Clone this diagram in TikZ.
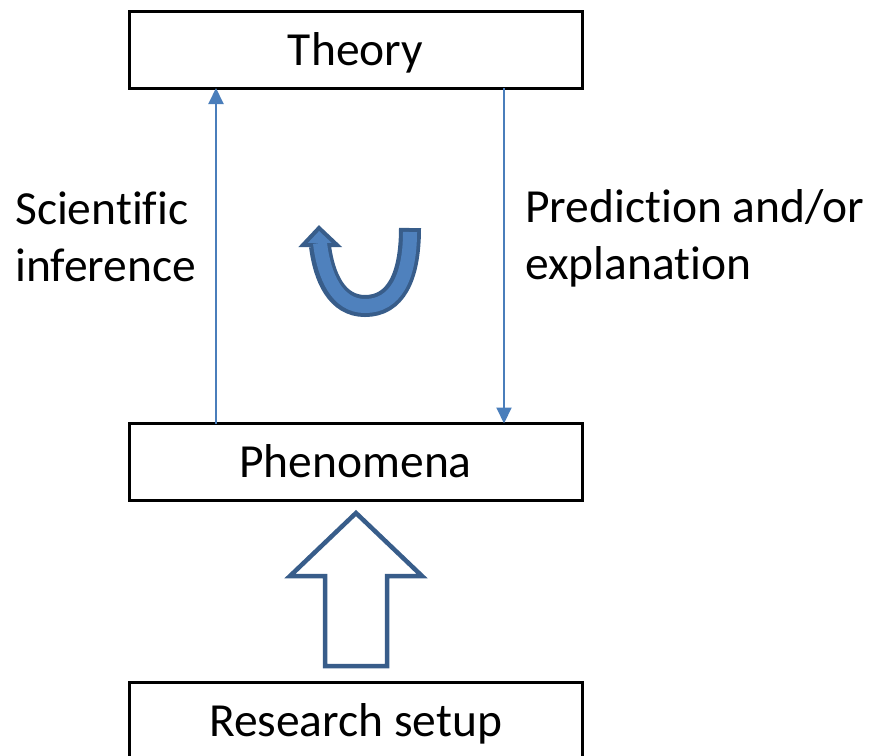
\documentclass[tikz,border=0pt]{standalone}
\usepackage{fontspec}
\setmainfont{Carlito}[Ligatures=NoCommon]
\usetikzlibrary{arrows.meta}
\definecolor{linkblue}{HTML}{4A7EBB}
\definecolor{curvefill}{HTML}{4F81BD}
\definecolor{curveline}{HTML}{385D8A}
\tikzset{
  box/.style={draw=black, line width=3pt, inner sep=0pt, outer sep=0pt,
    minimum width=453pt, minimum height=77pt, text height=31pt, text depth=0pt,
    font=\fontsize{47.5}{57}\selectfont},
  label/.style={inner sep=0pt, anchor=base west, align=left,
    font=\fontsize{47.5}{57}\selectfont},
  link/.style={linkblue, line width=2pt, -{Triangle[width=15pt,length=16pt]}},
}
\begin{document}
\begin{tikzpicture}[x=1pt, y=-1pt]
\useasboundingbox (0,0) rectangle (874,755);
\clip (0,0) rectangle (874,755);

% boxes
\node[box] (theory) at (355.5,49.5) {Theory};
\node[box] (phen) at (355.5,462) {Phenomena};
\node[box] (setup) at (355.5,720.5) {Research setup};

% side labels (base anchor sits on the last line)
\node[label] (infer) at (15,281) {Scientific\\inference};
\node[label] (pred) at (525,279) {Prediction and/or\\explanation};

% vertical links
\coordinate (xl) at (216,0);
\coordinate (xr) at (504,0);
\draw[link] (phen.north -| xl) -- (theory.south -| xl);
\draw[link] (theory.south -| xr) -- (phen.north -| xr);

% curved cycle arrow
\draw[curveline, line width=22pt]
  (410,228) .. controls (410,278) and (395,306) .. (365,306)
  .. controls (337,306) and (324,278) .. (320,246);
\filldraw[fill=curvefill, draw=curveline, line width=4pt, line join=miter]
  (319,228) -- (337,245) -- (303,245) -- cycle;
\draw[curvefill, line width=14pt, shorten <=4pt]
  (410,228) .. controls (410,278) and (395,306) .. (365,306)
  .. controls (337,306) and (324,276) .. (320,243);

% block arrow from setup to phenomena
\draw[curveline, line width=4.5pt, fill=white, line join=miter]
  (356,513) -- (422,576) -- (387,576) -- (387,666) -- (325,666)
  -- (325,576) -- (290,576) -- cycle;
\end{tikzpicture}
\end{document}
